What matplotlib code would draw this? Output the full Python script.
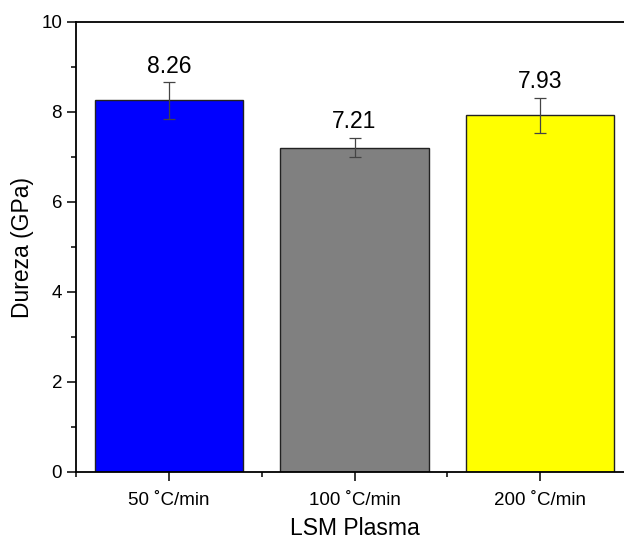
import matplotlib.pyplot as plt
from matplotlib.ticker import MultipleLocator, FixedLocator

plt.rcParams['font.family'] = ['Liberation Sans', 'DejaVu Sans']

# data
categories = ['50 ˚C/min', '100 ˚C/min', '200 ˚C/min']
dureza = [8.26, 7.21, 7.93]
erro = [0.41, 0.22, 0.39]
cores = ['#0000ff', '#808080', '#ffff00']

fig = plt.figure(figsize=(6.24, 5.4), dpi=100)
# axes runs a bit past the right edge, like the cropped original
ax = fig.add_axes([76 / 624, 68 / 540, 557 / 624, 450 / 540])

x = range(len(categories))
ax.bar(x, dureza, width=0.8, color=cores, edgecolor='#222222', linewidth=1.0, zorder=2)
ax.errorbar(x, dureza, yerr=erro, fmt='none', ecolor='#444444',
            elinewidth=0.9, capsize=4, capthick=0.9, zorder=3)

for xi, v, e in zip(x, dureza, erro):
    ax.annotate(f'{v:.2f}', (xi, v + e), xytext=(0, 3), textcoords='offset points',
                ha='center', va='bottom', fontsize=16.5)

ax.set_xlim(-0.5, 2.5)
ax.set_ylim(0, 10)
ax.set_xticks(list(x))
ax.set_xticklabels(categories)
ax.xaxis.set_minor_locator(FixedLocator([-0.5, 0.5, 1.5, 2.5]))
ax.yaxis.set_major_locator(MultipleLocator(2))
ax.yaxis.set_minor_locator(MultipleLocator(1))

ax.tick_params(axis='both', which='major', direction='out', length=6.5, width=1.1,
               labelsize=13.5, top=False, right=False)
ax.tick_params(axis='both', which='minor', direction='out', length=3.5, width=1.1,
               top=False, right=False)
ax.tick_params(axis='x', which='major', pad=8)

for s in ax.spines.values():
    s.set_linewidth(1.3)

ax.set_xlabel('LSM Plasma', fontsize=16.5, labelpad=6)
ax.set_ylabel('Dureza (GPa)', fontsize=16.5, labelpad=5)

fig.savefig('out.png', dpi=100)
